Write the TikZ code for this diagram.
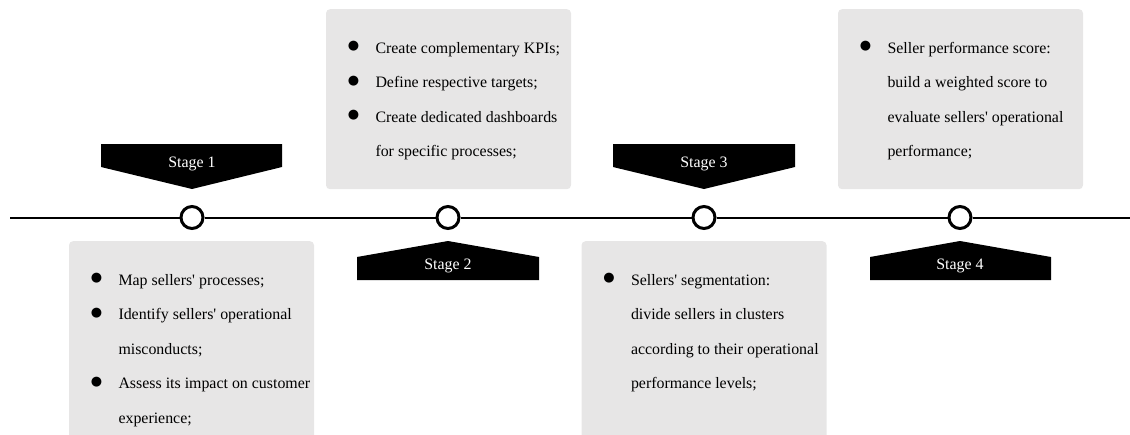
\documentclass[tikz,border=0pt]{standalone}
\usepackage{fontspec}
\setmainfont{Liberation Serif}
\newfontfamily\bulletfont{DejaVu Sans}
\usepackage{tikz}
\usetikzlibrary{positioning}
\usepackage{xcolor}
\definecolor{boxgray}{HTML}{E7E6E6}
\newcommand{\bul}{\llap{\makebox[0pt]{\raisebox{3.5pt}{\bulletfont\fontsize{13}{13}\selectfont ●}}\hspace{22pt}}}
\newcommand{\q}{\textquotesingle}

\begin{document}
\begin{tikzpicture}[x=1pt,y=-1pt]
	\clip (0,0) rectangle (1130,434);
	\tikzset{box/.style={rectangle,fill=boxgray,rounded corners=4pt,minimum width=245pt,inner sep=0pt,anchor=north},
		listtext/.style={align=left,inner sep=0pt,anchor=base west,font=\fontsize{15.9}{34.5}\selectfont},
		dot/.style={circle,draw,fill=white,line width=3pt,minimum size=22pt,inner sep=0pt},
		stagelabel/.style={text=white,anchor=base,inner sep=0pt,font=\fontsize{15.9}{18}\selectfont}}

	% gray boxes
	\node[box,minimum height=250pt] (Box1) at (191.5,241) {};
	\node[box,minimum height=180pt] (Box2) at (448.5,9) {};
	\node[box,minimum height=250pt] (Box3) at (704,241) {};
	\node[box,minimum height=180pt] (Box4) at (960.5,9) {};

	% lists (anchored at the baseline of their last line)
	\node[listtext] (Text1) at ([xshift=49.5pt,yshift=-182pt]Box1.north west) {\bul Map sellers\q{} processes;\\
		\bul Identify sellers\q{} operational\\
		misconducts;\\
		\bul Assess its impact on customer\\
		experience;};
	\node[listtext] (Text2) at ([xshift=49.5pt,yshift=-147.5pt]Box2.north west) {\bul Create complementary KPIs;\\
		\bul Define respective targets;\\
		\bul Create dedicated dashboards\\
		for specific processes;};
	\node[listtext] (Text3) at ([xshift=49.5pt,yshift=-147.5pt]Box3.north west) {\bul Sellers\q{} segmentation:\\
		divide sellers in clusters\\
		according to their operational\\
		performance levels;};
	\node[listtext] (Text4) at ([xshift=49.5pt,yshift=-147.5pt]Box4.north west) {\bul Seller performance score:\\
		build a weighted score to\\
		evaluate sellers\q{} operational\\
		performance;};

	% stage banners
	\fill (101,144) -- (282,144) -- (282,167) -- (192,189) -- (101,167) -- cycle;
	\fill (357,280) -- (539,280) -- (539,257) -- (448,241) -- (357,257) -- cycle;
	\fill (613,144) -- (795,144) -- (795,167) -- (704,189) -- (613,167) -- cycle;
	\fill (870,280) -- (1051,280) -- (1051,257) -- (960,241) -- (870,257) -- cycle;
	\node[stagelabel] (Stage1) at (192,167) {Stage 1};
	\node[stagelabel] (Stage2) at (448,269) {Stage 2};
	\node[stagelabel] (Stage3) at (704,167) {Stage 3};
	\node[stagelabel] (Stage4) at (960,269) {Stage 4};

	% timeline
	\node[dot] (C1) at (192,217.5) {};
	\node[dot] (C2) at (448,217.5) {};
	\node[dot] (C3) at (704,217.5) {};
	\node[dot] (C4) at (960,217.5) {};
	\coordinate (Start) at (10,217.5);
	\coordinate (End) at (1130,217.5);
	\draw[line width=2pt] (Start) -- (C1) -- (C2) -- (C3) -- (C4) -- (End);
\end{tikzpicture}
\end{document}
